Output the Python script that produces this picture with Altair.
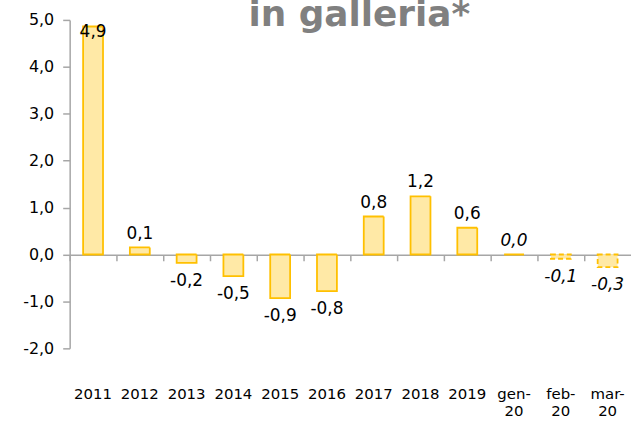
import altair as alt
import pandas as pd

categories = ["2011", "2012", "2013", "2014", "2015", "2016", "2017", "2018", "2019",
              "gen-20", "feb-20", "mar-20"]
values = [4.86, 0.15, -0.18, -0.46, -0.93, -0.78, 0.81, 1.24, 0.57, 0.0, -0.09, -0.27]
labels = ["4,9", "0,1", "-0,2", "-0,5", "-0,9", "-0,8", "0,8", "1,2", "0,6", "0,0", "-0,1", "-0,3"]
kinds = ["annual"] * 9 + ["monthly"] * 3
title_text = "in galleria*"
y_ticks = [-2, -1, 0, 1, 2, 3, 4, 5]

df = pd.DataFrame({"cat": categories, "value": values, "label": labels, "kind": kinds})

FONT = "DejaVu Sans"
GRAY = "#A6A6A6"
xscale = alt.Scale(domain=categories, paddingInner=0, paddingOuter=0)
yscale = alt.Scale(domain=[-2, 5], nice=False, zero=False)

base = alt.Chart(df)

y_axis = alt.Axis(values=y_ticks, orient="left",
                  labelExpr="(datum.value < 0 ? '-' : '') + replace(format(abs(datum.value), '.1f'), '.', ',')",
                  grid=False, domainColor=GRAY, domainWidth=1.5, tickColor=GRAY,
                  tickWidth=1.5, tickSize=7, labelFontSize=16, labelFont=FONT,
                  labelColor="#000000", labelPadding=9)

bars = base.mark_bar(width=20, fill="#FFE9A6", stroke="#FFC000", strokeWidth=1.8).encode(
    x=alt.X("cat:N", sort=categories, scale=xscale, title=None,
            axis=alt.Axis(orient="bottom", offset=-94, labels=False, domainColor=GRAY,
                          domainWidth=1.5, tickColor=GRAY, tickWidth=1.5, tickSize=6,
                          bandPosition=0, grid=False)),
    y=alt.Y("value:Q", scale=yscale, title=None, axis=y_axis),
    strokeDash=alt.StrokeDash("kind:N",
                              scale=alt.Scale(domain=["annual", "monthly"],
                                              range=[[1, 0], [5, 3]]),
                              legend=None),
)

x_label_axis = alt.Axis(orient="bottom", domain=False, ticks=False, grid=False, labelAngle=0,
                        labelFontSize=15, labelFont=FONT, labelColor="#000000",
                        labelPadding=38, labelLineHeight=17,
                        labelExpr="length(datum.label) > 4 ? [slice(datum.label, 0, 4), slice(datum.label, 4)] : datum.label")


def label_layer(kind, positive, with_axis):
    cond = "datum.value >= 0" if positive else "datum.value < 0"
    return base.transform_filter(f"datum.kind == '{kind}' && {cond}").transform_calculate(
        ly="min(datum.value, 4.45)"
    ).mark_text(
        fontSize=17, font=FONT, color="#000000",
        fontStyle="italic" if kind == "monthly" else "normal",
        baseline="alphabetic" if positive else "top",
        dy=-9 if positive else 10,
    ).encode(
        x=alt.X("cat:N", sort=categories, scale=xscale, title=None,
                axis=x_label_axis if with_axis else None),
        y=alt.Y("ly:Q", scale=yscale, axis=None),
        text="label:N",
    )


t1 = label_layer("annual", True, True)
t2 = label_layer("annual", False, False)
t3 = label_layer("monthly", True, False)
t4 = label_layer("monthly", False, False)

title = alt.Chart(pd.DataFrame({"t": [title_text]})).mark_text(
    fontSize=36, fontWeight="bold", color="#808080", font=FONT, baseline="alphabetic",
    align="center"
).encode(x=alt.value(291), y=alt.value(6), text="t:N")

chart = alt.layer(bars, t1, t2, t3, t4, title).resolve_axis(
    x="independent", y="independent"
).properties(
    width=564, height=330,
    autosize=alt.AutoSizeParams(type="none"),
    padding={"left": 70, "top": 19, "right": 0, "bottom": 75},
).configure_view(stroke=None)

chart.save("out.html", embed_options={"renderer": "svg", "actions": False})
